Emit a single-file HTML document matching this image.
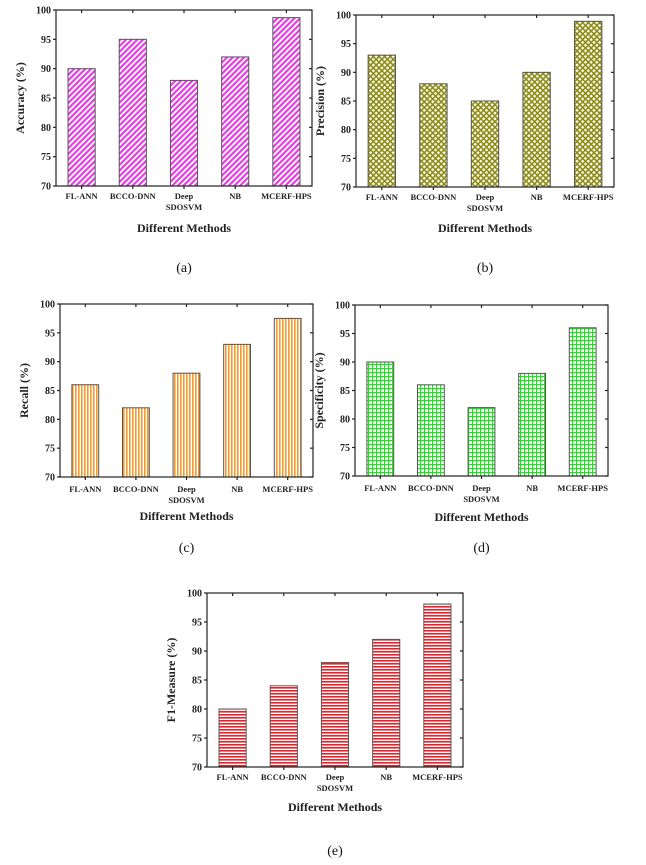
<!DOCTYPE html>
<html><head><meta charset="utf-8">
<style>
html,body{margin:0;padding:0;background:#fff;}
svg{display:block;font-family:"Liberation Serif",serif;}
</style></head>
<body>
<svg id="fig" width="646" height="865" viewBox="0 0 646 865" xmlns="http://www.w3.org/2000/svg">
<defs>
<pattern id="pa" width="4" height="4" patternUnits="userSpaceOnUse" patternTransform="rotate(45)"><rect width="4" height="4" fill="#fff"/><rect width="2.2" height="4" fill="#e23fe2"/></pattern>
<pattern id="pb" width="4" height="4" patternUnits="userSpaceOnUse" patternTransform="rotate(45)"><rect width="4" height="4" fill="#8c8a10"/><rect x="0.8" y="0.8" width="2.4" height="2.4" fill="#fff"/></pattern>
<pattern id="pc" width="3" height="3" patternUnits="userSpaceOnUse"><rect width="3" height="3" fill="#fff"/><rect width="1.6" height="3" fill="#f39a2e"/></pattern>
<pattern id="pd" width="4" height="4" patternUnits="userSpaceOnUse"><rect width="4" height="4" fill="#fff"/><rect width="1.2" height="4" fill="#22e022"/><rect width="4" height="1.2" fill="#22e022"/></pattern>
<pattern id="pe" width="3" height="3" patternUnits="userSpaceOnUse"><rect width="3" height="3" fill="#fff"/><rect width="3" height="1.6" fill="#e8222a"/></pattern>
</defs>
</svg>
<script>
const categories = ["FL-ANN","BCCO-DNN","Deep|SDOSVM","NB","MCERF-HPS"];
const accuracyValues = [90, 95, 88, 92, 98.7];
const precisionValues = [93, 88, 85, 90, 98.9];
const recallValues = [86, 82, 88, 93, 97.5];
const specificityValues = [90, 86, 82, 88, 96];
const f1Values = [80, 84, 88, 92, 98.1];
const yTicks = [70, 75, 80, 85, 90, 95, 100];
const yMin = 70, yMax = 100;

const NS = "http://www.w3.org/2000/svg";
const svg = document.getElementById("fig");
function mk(tag, attrs, parent, txt){
  const e = document.createElementNS(NS, tag);
  for (const k in attrs) e.setAttribute(k, attrs[k]);
  if (txt !== undefined) e.textContent = txt;
  (parent || svg).appendChild(e);
  return e;
}

const panels = [
  {id:"accuracy", vals:accuracyValues, ylab:"Accuracy (%)", cap:"(a)", L:56, R:312, T:10, B:186, fill:"url(#pa)", labY:199, titleY:232, capY:272},
  {id:"precision", vals:precisionValues, ylab:"Precision (%)", cap:"(b)", L:356, R:614, T:15, B:187, fill:"url(#pb)", labY:200, titleY:232, capY:272},
  {id:"recall", vals:recallValues, ylab:"Recall (%)", cap:"(c)", L:60, R:313, T:304, B:477, fill:"url(#pc)", labY:492, titleY:520, capY:552},
  {id:"specificity", vals:specificityValues, ylab:"Specificity (%)", cap:"(d)", L:355, R:608, T:305, B:476, fill:"url(#pd)", labY:491, titleY:521, capY:552},
  {id:"f1-measure", vals:f1Values, ylab:"F1-Measure (%)", cap:"(e)", L:207, R:463, T:593, B:767, fill:"url(#pe)", labY:780, titleY:811, capY:855}
];

panels.forEach(p => {
  const g = mk("g", {});
  
  
  const y = v => p.B - (v - yMin) / (yMax - yMin) * (p.B - p.T);
  const band = (p.R - p.L) / categories.length;
  const xc = i => p.L + band * (i + 0.5);
  const bw = band * 0.53;
  p.vals.forEach((v, i) => {
    const r = mk("rect", {x: xc(i) - bw/2, y: y(v), width: bw, height: y(yMin) - y(v), fill: p.fill, stroke: "#555", "stroke-width": 1}, g);
    
    
  });
  const frame = mk("rect", {x: p.L, y: p.T, width: p.R - p.L, height: p.B - p.T, fill: "none", stroke: "#222", "stroke-width": 1.2}, g);
  
  
  yTicks.forEach(t => {
    mk("line", {x1: p.L - 3, x2: p.L, y1: y(t), y2: y(t), stroke: "#222", "stroke-width": 1.2}, g);
    mk("line", {x1: p.R, x2: p.R - 3, y1: y(t), y2: y(t), stroke: "#222", "stroke-width": 1.2}, g);
    const tl = mk("text", {x: p.L - 5, y: y(t) + 3.5, "text-anchor": "end", "font-size": 10, "font-weight": "bold", fill: "#222"}, g, String(t));
    
    
  });
  categories.forEach((c, i) => {
    mk("line", {x1: xc(i), x2: xc(i), y1: p.B, y2: p.B + 3, stroke: "#222", "stroke-width": 1.2}, g);
    mk("line", {x1: xc(i), x2: xc(i), y1: p.T, y2: p.T + 3, stroke: "#222", "stroke-width": 1.2}, g);
    const parts = c.split("|");
    parts.forEach((s, k) => {
      const tl = mk("text", {x: xc(i), y: p.labY + k * 11, "text-anchor": "middle", "font-size": 8.5, "font-weight": "bold", fill: "#222"}, g, s);
      
      
    });
  });
  const xt = mk("text", {x: (p.L + p.R) / 2, y: p.titleY, "text-anchor": "middle", "font-size": 12, "font-weight": "bold", fill: "#222"}, g, "Different Methods");
  
  
  const yx = p.L - 32, yy = (p.T + p.B) / 2;
  const yt = mk("text", {x: yx, y: yy, "text-anchor": "middle", "font-size": 12, "font-weight": "bold", fill: "#222", transform: "rotate(-90 " + yx + " " + yy + ")"}, g, p.ylab);
  
  
  const cp = mk("text", {x: (p.L + p.R) / 2, y: p.capY, "text-anchor": "middle", "font-size": 14, fill: "#111"}, g, p.cap);
  
  
});
</script>
</body></html>
